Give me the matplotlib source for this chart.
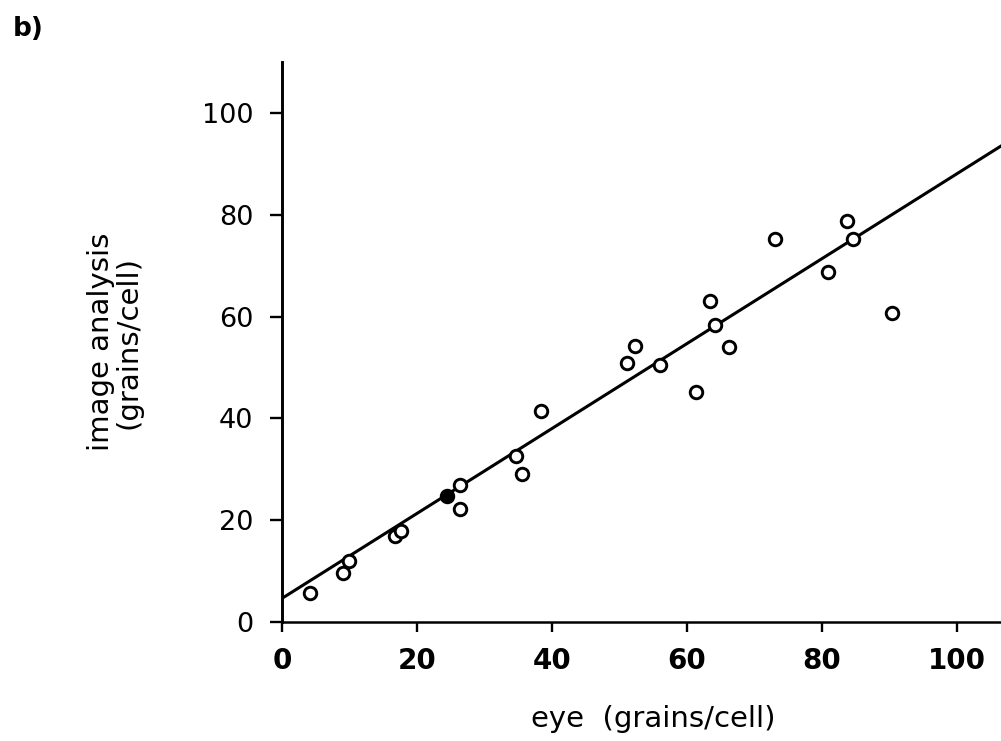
import matplotlib.pyplot as plt

plt.rcParams['font.family'] = ['DejaVu Sans']

# open circles
eye_open = [4.1, 9.0, 9.9, 16.7, 17.6, 26.4, 26.4, 34.6, 35.5, 38.3,
            51.1, 52.3, 56.0, 61.4, 63.4, 64.2, 66.2, 73.0, 81.0, 83.7,
            84.6, 90.5]
img_open = [5.7, 9.7, 12.0, 16.9, 17.9, 26.9, 22.1, 32.7, 29.0, 41.4,
            50.9, 54.2, 50.4, 45.1, 63.0, 58.4, 54.1, 75.2, 68.7, 78.8,
            75.2, 60.7]

# the single filled point
eye_filled = [24.4]
img_filled = [24.8]

# regression line end points
fit_x = [0, 106.6]
fit_y = [4.7, 93.5]

x_ticks = [0, 20, 40, 60, 80, 100]
y_ticks = [0, 20, 40, 60, 80, 100]

fig = plt.figure(figsize=(10.01, 7.41), dpi=100)
ax = fig.add_axes([0.2822, 0.1606, 0.7178, 0.7557])

ax.plot(fit_x, fit_y, color='black', lw=2.2, zorder=2)
ax.plot(eye_open, img_open, 'o', ms=9, mfc='white', mec='black', mew=2.1,
        zorder=3)
ax.plot(eye_filled, img_filled, 'o', ms=9, mfc='black', mec='black',
        mew=2.1, zorder=3)

ax.set_xlim(0, 106.6)
ax.set_ylim(0, 110)
ax.spines['top'].set_visible(False)
ax.spines['right'].set_visible(False)
ax.spines['left'].set_linewidth(2.1)
ax.spines['bottom'].set_linewidth(1.8)

ax.set_xticks(x_ticks)
ax.set_xticklabels([str(v) for v in x_ticks], fontsize=20, fontweight='bold')
ax.set_yticks(y_ticks)
ax.set_yticklabels([str(v) for v in y_ticks], fontsize=19.5)
ax.tick_params(axis='x', length=7, width=1.7, pad=11)
ax.tick_params(axis='y', length=9, width=1.7, pad=12)

ax.set_xlabel('eye  (grains/cell)', fontsize=21)
ax.xaxis.set_label_coords(0.516, -0.148)
ax.set_ylabel('image analysis\n(grains/cell)', fontsize=21, linespacing=0.95)
ax.yaxis.set_label_coords(-0.195, 0.5)

fig.text(0.013, 0.961, 'b)', fontsize=19, fontweight='bold', va='center')

fig.savefig('out.png', dpi=100)
